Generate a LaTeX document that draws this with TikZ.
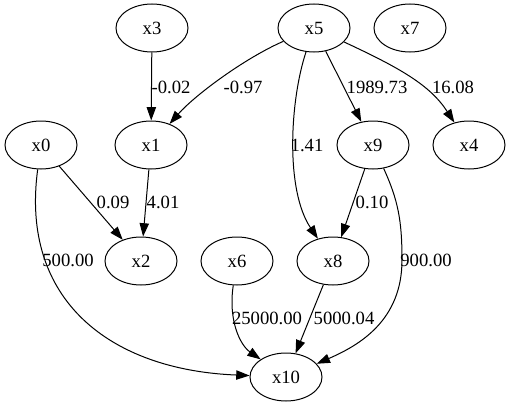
\documentclass[tikz,border=0pt]{standalone}
\usepackage{fontspec}
\setmainfont{Liberation Serif}
\usetikzlibrary{arrows.meta,shapes.geometric}
\begin{document}
\begin{tikzpicture}[x=0.75pt,y=-0.75pt,
  every node/.style={font=\fontsize{14}{16}\selectfont},
  var/.style={draw,ellipse,minimum width=54pt,minimum height=36pt,inner sep=0pt,line width=0.75pt},
  lbl/.style={inner sep=0pt},
  edge/.style={draw,line width=0.75pt,-{Triangle[length=10pt,width=7pt]}}]
\useasboundingbox (0,0) rectangle (511,407);
% nodes
\node[var] (x3) at (152,28) {x3};
\node[var] (x5) at (314,28) {x5};
\node[var] (x7) at (410,28) {x7};
\node[var] (x0) at (41,145) {x0};
\node[var] (x1) at (151,145) {x1};
\node[var] (x9) at (373,145) {x9};
\node[var] (x4) at (469,145) {x4};
\node[var] (x2) at (141,261) {x2};
\node[var] (x6) at (237,261) {x6};
\node[var] (x8) at (333,261) {x8};
\node[var] (x10) at (286,377) {x10};
% edges
\draw[edge] (x3) -- (x1);
\draw[edge] (x5) .. controls (245,58) and (195,95) .. (x1);
\draw[edge] (x5) .. controls (290,100) and (285,190) .. (x8);
\draw[edge] (x5) -- (x9);
\draw[edge] (x5) .. controls (400,68) and (430,85) .. (x4);
\draw[edge] (x0) -- (x2);
\draw[edge] (x1) -- (x2);
\draw[edge] (x9) -- (x8);
\draw[edge] (x8) -- (x10);
\draw[edge] (x6) .. controls (228,320) and (240,345) .. (x10);
\draw[edge] (x9) .. controls (398,200) and (402,220) .. (402,260) .. controls (402,320) and (360,345) .. (x10);
\draw[edge] (x0) .. controls (20,300) and (110,370) .. (x10);
% labels
\node[lbl] (l1) at (171,87) {-0.02};
\node[lbl] (l2) at (243,87) {-0.97};
\node[lbl] (l3) at (377,87) {1989.73};
\node[lbl] (l4) at (453,87) {16.08};
\node[lbl] (l5) at (307,145) {1.41};
\node[lbl] (l6) at (113,202) {0.09};
\node[lbl] (l7) at (163,202) {4.01};
\node[lbl] (l8) at (372,202) {0.10};
\node[lbl] (l9) at (68,260) {500.00};
\node[lbl] (l10) at (267,318) {25000.00};
\node[lbl] (l11) at (344,318) {5000.04};
\node[lbl] (l12) at (426,260) {900.00};
\end{tikzpicture}
\end{document}
